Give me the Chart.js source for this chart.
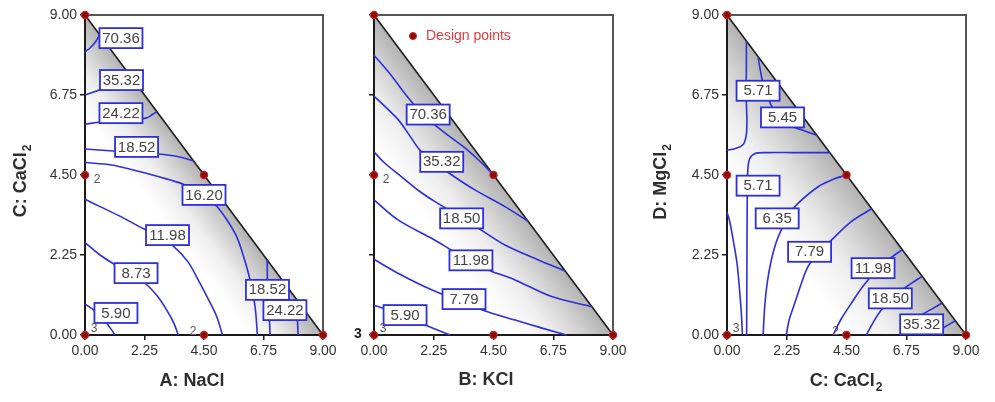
<!DOCTYPE html>
<html>
<head>
<meta charset="utf-8">
<script src="https://cdn.jsdelivr.net/npm/chart.js@4.4.1/dist/chart.umd.min.js"></script>
<style>
  body { margin: 0; background: #fff; width: 995px; height: 402px; position: relative; overflow: hidden; }
  .panel { position: absolute; top: 0; height: 402px; }
</style>
</head>
<body>
<div class="panel" style="left:0;width:360px"><canvas id="chartA"></canvas></div>
<div class="panel" style="left:330px;width:320px"><canvas id="chartB"></canvas></div>
<div class="panel" style="left:640px;width:355px"><canvas id="chartC"></canvas></div>
<script>
const tickValues = [0, 2.25, 4.5, 6.75, 9];
const designX = [0, 0, 0, 4.5, 4.5, 9];
const designY = [9, 4.5, 0, 4.5, 0, 0];

// A: NaCl vs C: CaCl2
const naclLines = [
  [[0,7.97],[0.2,8.08],[0.42,8.27],[0.55,8.45]],
  [[0,6.75],[0.57,6.9],[1.2,7.08],[1.75,7.25]],
  [[0,5.93],[0.6,5.99],[1.5,6.04],[2.3,6.1],[2.55,6.2],[2.72,6.28]],
  [[0,5.23],[0.8,5.19],[1.6,5.15],[2.77,5.09],[3.5,5.02],[4.1,4.9]],
  [[0,4.85],[1,4.78],[1.83,4.64],[2.8,4.45],[3.72,4.24],[4.4,3.98],[4.98,3.62],[5.4,3.2],[5.74,2.76],[6.0,2.2],[6.24,1.55],[6.43,0.8],[6.52,0]],
  [[0,3.82],[0.57,3.61],[1.3,3.35],[2.0,3.07],[2.7,2.8],[3.34,2.5],[3.9,2.05],[4.35,1.45],[4.7,0.95],[4.98,0.52],[5.2,0]],
  [[0,2.6],[0.57,2.25],[1.13,1.98],[1.8,1.7],[2.33,1.42],[2.75,1.08],[3.09,0.7],[3.35,0.35],[3.53,0]],
  [[0,0.87],[0.3,0.72],[0.6,0.5],[0.82,0.33],[1.0,0.15],[1.13,0]],
  [[6.89,2.11],[6.9,1.5],[6.93,1.0],[6.97,0.5],[7.0,0]],
  [[8.02,0.98],[8.03,0.5],[8.06,0]]
];
const naclLabels = ["70.36","35.32","24.22","18.52","16.20","11.98","8.73","5.90","18.52","24.22"];
const naclLabelX = [1.36, 1.38, 1.36, 1.95, 4.5, 3.12, 1.93, 1.17, 6.9, 7.56];
const naclLabelY = [8.35, 7.17, 6.24, 5.29, 3.94, 2.81, 1.74, 0.62, 1.27, 0.7];
const naclReps = [[0, 4.5, "2"], [0, 0, "3"], [4.5, 0, "2"]];

// B: KCl vs C: CaCl2
const kclLines = [
  [[0,7.87],[0.6,7.35],[1.1,6.85],[1.6,6.4],[2.3,5.9],[3.0,5.5],[3.45,5.25],[4.0,4.88],[4.5,4.5]],
  [[0,6.72],[0.45,6.4],[0.92,6.05],[1.35,5.6],[1.73,5.2],[2.3,4.85],[2.93,4.5],[3.8,4.08],[4.93,3.61],[5.8,3.2]],
  [[0,5.15],[0.41,4.83],[1.04,4.45],[1.7,4.05],[2.3,3.75],[3.3,3.3],[4.1,2.92],[4.93,2.53],[6.19,2.11],[7.2,1.8]],
  [[0,3.8],[0.92,3.23],[2.17,2.72],[3.0,2.35],[3.7,2.05],[4.4,1.8],[5.31,1.55],[6.69,1.08],[8.2,0.8]],
  [[0,2.13],[0.92,1.73],[2.17,1.27],[3.4,0.9],[4.3,0.65],[5.31,0.42],[6.3,0.2],[7.25,0]],
  [[0,0.84],[0.35,0.75],[1.0,0.55],[1.92,0.28],[2.86,0]]
];
const kclLabels = ["70.36","35.32","18.50","11.98","7.79","5.90"];
const kclLabelX = [2.04, 2.55, 3.3, 3.65, 3.39, 1.17];
const kclLabelY = [6.2, 4.87, 3.28, 2.1, 1.01, 0.56];
const kclReps = [[0, 4.5, "2"], [0, 0, "3"]];

// C: CaCl2 vs D: MgCl2
const caclLines = [
  [[0.73,8.27],[0.73,7.5],[0.72,6.8],[0.75,6.0],[0.72,5.6],[0.6,5.35],[0.3,5.24],[0,5.2]],
  [[1.17,7.83],[1.23,7.55],[1.35,7.1],[1.55,6.7],[1.67,6.45],[2.0,6.1],[2.5,5.85],[2.86,5.76],[3.38,5.62]],
  [[3.87,5.13],[2.5,5.13],[1.5,5.13],[1.04,5.1],[0.85,4.95],[0.78,4.6],[0.76,3.5],[0.75,2],[0.74,0]],
  [[0,3.45],[0.1,3.2],[0.25,2.6],[0.38,2.0],[0.48,1.2],[0.55,0.5],[0.58,0]],
  [[1.36,0],[1.42,0.8],[1.52,1.5],[1.67,2.11],[1.85,2.6],[2.04,2.95],[2.35,3.4],[2.67,3.7],[3.43,4.17],[4.0,4.38],[4.5,4.5]],
  [[2.23,0],[2.35,0.45],[2.55,0.89],[2.8,1.45],[3.05,1.92],[3.45,2.35],[3.93,2.67],[4.68,3.19],[5.45,3.55]],
  [[3.99,0],[4.3,0.45],[4.68,0.89],[5.1,1.35],[5.6,1.8],[6.0,2.08],[6.31,2.25],[6.6,2.4]],
  [[5.25,0],[5.5,0.35],[5.81,0.7],[6.3,1.1],[6.94,1.45],[7.35,1.65]],
  [[6.75,0],[6.95,0.3],[7.3,0.55],[7.69,0.72],[8.1,0.9]],
  [[7.85,0],[8.15,0.2],[8.6,0.4]]
];
const caclLabels = ["5.71","5.45","5.71","6.35","7.79","11.98","18.50","35.32"];
const caclLabelX = [1.17, 2.09, 1.17, 1.89, 3.11, 5.5, 6.15, 7.33];
const caclLabelY = [6.87, 6.12, 4.2, 3.28, 2.34, 1.88, 1.03, 0.3];
const caclReps = [[0, 0, "3"], [4.5, 0, "2"]];

const BLUE = "#2f2fd8";
const FONT = '"Liberation Sans", Arial, sans-serif';

function subText(ctx, main, sub, cx, cy, size) {
  const f1 = `bold ${size}px ${FONT}`, f2 = `bold ${Math.round(size * 0.68)}px ${FONT}`;
  ctx.font = f1;
  const w1 = ctx.measureText(main).width;
  ctx.font = f2;
  const w2 = sub ? ctx.measureText(sub).width + 1 : 0;
  const x0 = cx - (w1 + w2) / 2;
  ctx.textAlign = "left";
  ctx.textBaseline = "middle";
  ctx.font = f1;
  ctx.fillText(main, x0, cy);
  if (sub) {
    ctx.font = f2;
    ctx.fillText(sub, x0 + w1 + 1, cy + size * 0.38);
  }
}

function panelPlugin(p) {
  return {
    id: "panel",
    beforeDatasetsDraw(chart) {
      const { ctx, chartArea: a, scales: { x, y } } = chart;
      const P = [x.getPixelForValue(0), y.getPixelForValue(9)];
      const Q = [x.getPixelForValue(9), y.getPixelForValue(0)];
      const O = [x.getPixelForValue(0), y.getPixelForValue(0)];
      const dx = Q[0] - P[0], dy = Q[1] - P[1], len = Math.hypot(dx, dy);
      const nx = -dy / len, ny = dx / len;
      const mx = (P[0] + Q[0]) / 2, my = (P[1] + Q[1]) / 2;
      // grey along the hypotenuse fading to white inside
      const g = ctx.createLinearGradient(mx, my, mx + nx * p.shade, my + ny * p.shade);
      g.addColorStop(0, "#b2b2b2");
      g.addColorStop(0.25, "#cdcdcd");
      g.addColorStop(0.6, "#eeeeee");
      g.addColorStop(1, "#ffffff");
      ctx.save();
      ctx.beginPath();
      ctx.moveTo(P[0], P[1]); ctx.lineTo(Q[0], Q[1]); ctx.lineTo(O[0], O[1]); ctx.closePath();
      ctx.fillStyle = g;
      ctx.fill();
      ctx.beginPath();
      ctx.moveTo(P[0], P[1]); ctx.lineTo(Q[0], Q[1]);
      ctx.strokeStyle = "#1e1e1e"; ctx.lineWidth = 1.6; ctx.stroke();
      // frame
      ctx.beginPath();
      ctx.moveTo(a.left, a.top); ctx.lineTo(a.right, a.top); ctx.lineTo(a.right, a.bottom);
      ctx.strokeStyle = "#555"; ctx.lineWidth = 2; ctx.stroke();
      ctx.beginPath();
      ctx.moveTo(a.left, a.top); ctx.lineTo(a.left, a.bottom); ctx.lineTo(a.right, a.bottom);
      ctx.strokeStyle = "#1a1a1a"; ctx.lineWidth = 2; ctx.stroke();
      ctx.restore();
    },
    afterDatasetsDraw(chart) {
      const { ctx, chartArea: a, scales: { x, y } } = chart;
      ctx.save();
      // contour labels
      ctx.font = `15px ${FONT}`;
      ctx.textAlign = "center";
      ctx.textBaseline = "middle";
      p.labels.forEach((t, i) => {
        const cx = x.getPixelForValue(p.labelX[i]), cy = y.getPixelForValue(p.labelY[i]);
        ctx.fillStyle = "#fff";
        ctx.fillRect(cx - 21.5, cy - 10, 43, 20);
        ctx.strokeStyle = BLUE; ctx.lineWidth = 1.8;
        ctx.strokeRect(cx - 21.5, cy - 10, 43, 20);
        ctx.fillStyle = "#444";
        ctx.fillText(t, cx, cy + 0.5);
      });
      // replicate counts
      ctx.font = `12px ${FONT}`;
      ctx.fillStyle = "#555";
      p.reps.forEach(([vx, vy, t]) => {
        const cx = x.getPixelForValue(vx), cy = y.getPixelForValue(vy);
        if (vx === 0 && vy > 0) ctx.fillText(t, cx + 12, cy + 5);
        else if (vx === 0) ctx.fillText(t, cx + 9, cy - 6);
        else ctx.fillText(t, cx - 11, cy - 3);
      });
      if (p.legend) {
        const lx = a.left + 39, ly = a.top + 21;
        ctx.beginPath(); ctx.arc(lx, ly, 3.5, 0, Math.PI * 2);
        ctx.fillStyle = "#8a0c0c"; ctx.fill();
        ctx.strokeStyle = "#c81e1e"; ctx.lineWidth = 1; ctx.stroke();
        ctx.font = `14px ${FONT}`;
        ctx.textAlign = "left";
        ctx.fillStyle = "#e8383c";
        ctx.fillText(p.legend, lx + 13, ly);
      }
      ctx.restore();
    },
    afterDraw(chart) {
      const ctx = chart.ctx;
      ctx.save();
      ctx.fillStyle = "#2e2e2e";
      const xt = p.xTitle;
      subText(ctx, xt[0], xt[1], xt[2] - p.offset, xt[3], 18);
      if (p.yTitle) {
        const yt = p.yTitle;
        ctx.translate(yt[2] - p.offset, yt[3]);
        ctx.rotate(-Math.PI / 2);
        subText(ctx, yt[0], yt[1], 0, 0, 18);
        ctx.setTransform(1, 0, 0, 1, 0, 0);
      }
      if (p.extra) {
        ctx.font = `bold 14px ${FONT}`;
        ctx.textAlign = "center";
        ctx.textBaseline = "middle";
        ctx.fillStyle = "#222";
        ctx.fillText(p.extra[0], p.extra[1] - p.offset, p.extra[2]);
      }
      ctx.restore();
    }
  };
}

function makePanel(id, p) {
  const datasets = [{
    data: designX.map((v, i) => ({ x: v, y: designY[i] })),
    pointRadius: 3.6,
    pointBackgroundColor: "#8a0c0c",
    pointBorderColor: "#cc1f1f",
    pointBorderWidth: 1.2,
    showLine: false,
    clip: false
  }];
  p.lines.forEach(line => {
    datasets.push({
      data: line.map(([a, b]) => ({ x: a, y: b })),
      showLine: true,
      pointRadius: 0,
      borderColor: BLUE,
      borderWidth: 1.6,
      tension: 0.35,
      clip: 6
    });
  });
  const tickFont = { family: FONT, size: 14 };
  new Chart(document.getElementById(id), {
    type: "scatter",
    data: { datasets },
    options: {
      responsive: true,
      maintainAspectRatio: false,
      devicePixelRatio: 1,
      animation: false,
      events: [],
      layout: { padding: { left: 0, right: p.padRight, top: 15, bottom: 0 } },
      plugins: { legend: { display: false }, tooltip: { enabled: false } },
      scales: {
        x: {
          type: "linear", min: 0, max: 9,
          afterBuildTicks: s => { s.ticks = tickValues.map(v => ({ value: v })); },
          afterFit: s => { s.height = 67; },
          border: { display: false },
          grid: { drawOnChartArea: false, drawTicks: true, tickLength: 5, color: "#1a1a1a", lineWidth: 1.5 },
          ticks: { callback: v => v.toFixed(2), font: tickFont, color: "#333", padding: 3, maxRotation: 0, autoSkip: false }
        },
        y: {
          type: "linear", min: 0, max: 9,
          afterBuildTicks: s => { s.ticks = tickValues.map(v => ({ value: v })); },
          afterFit: s => { s.width = p.yWidth; },
          border: { display: false },
          grid: { drawOnChartArea: false, drawTicks: true, tickLength: 5, color: "#1a1a1a", lineWidth: 1.5 },
          ticks: { callback: v => v.toFixed(2), font: tickFont, color: p.yLabels ? "#333" : "rgba(0,0,0,0)", padding: 3, autoSkip: false }
        }
      }
    },
    plugins: [panelPlugin(p)]
  });
}

makePanel("chartA", {
  lines: naclLines, labels: naclLabels, labelX: naclLabelX, labelY: naclLabelY, reps: naclReps,
  offset: 0, yWidth: 85, padRight: 37, shade: 60, yLabels: true,
  xTitle: ["A: NaCl", "", 192, 381], yTitle: ["C: CaCl", "2", 21, 181]
});
makePanel("chartB", {
  lines: kclLines, labels: kclLabels, labelX: kclLabelX, labelY: kclLabelY, reps: kclReps,
  offset: 330, yWidth: 44, padRight: 37, shade: 80, yLabels: false, legend: "Design points",
  xTitle: ["B: KCl", "", 486, 380], extra: ["3", 358, 334]
});
makePanel("chartC", {
  lines: caclLines, labels: caclLabels, labelX: caclLabelX, labelY: caclLabelY, reps: caclReps,
  offset: 640, yWidth: 87, padRight: 29, shade: 95, yLabels: true,
  xTitle: ["C: CaCl", "2", 846, 381], yTitle: ["D: MgCl", "2", 661, 182]
});
</script>
</body>
</html>
